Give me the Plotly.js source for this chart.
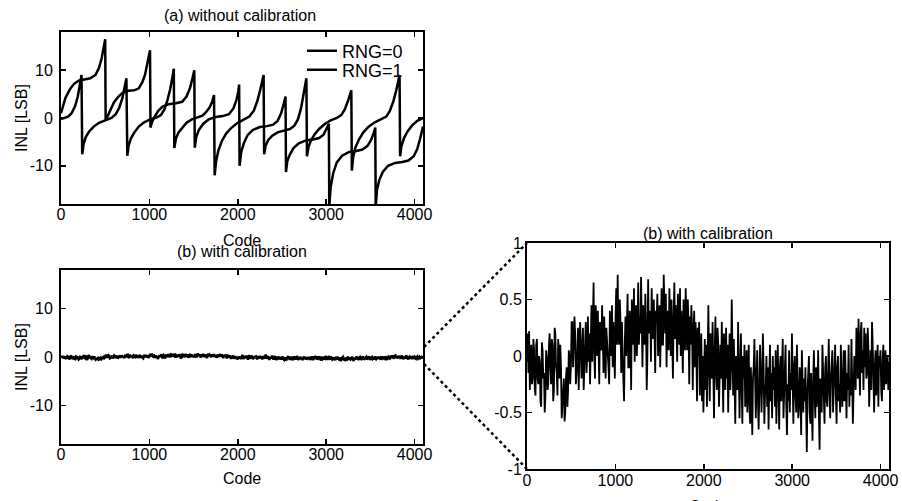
<!DOCTYPE html>
<html>
<head>
<meta charset="utf-8">
<script src="https://cdn.plot.ly/plotly-3.0.1.min.js"></script>
<style>html,body{margin:0;padding:0;background:#fff;}#chart{width:902px;height:501px;}</style>
</head>
<body>
<div id="chart"></div>
<script>
// ---------- data: (a) without calibration ----------
const rng0Code = [0,20,50,100,150,200,260,330,390,430,460,480,495,500,
  505,530,560,600,650,700,760,830,880,920,950,975,995,1007,
  1012,1030,1060,1100,1150,1220,1300,1370,1420,1460,1490,1508,
  1513,1530,1560,1610,1670,1750,1830,1900,1950,1985,2005,2015,
  2020,2040,2070,2110,2170,2250,2330,2400,2450,2490,2520,2540,
  2545,2560,2590,2630,2690,2770,2850,2920,2970,3005,3030,
  3035,3050,3080,3120,3180,3260,3340,3410,3470,3510,3540,3555,
  3560,3575,3600,3640,3700,3780,3860,3930,3990,4030,4060,4095];
const rng0INL = [1.0,2.5,4.2,6.0,7.2,7.8,8.1,8.3,9.0,10.5,12.5,14.5,16.2,16.5,
  -0.5,0.5,2.0,3.3,4.5,5.3,5.7,5.8,6.2,7.5,9.0,11.0,13.2,14.2,
  -2.0,-0.8,0.3,1.5,2.4,2.9,3.1,3.4,4.5,6.3,8.5,10.0,
  -6.2,-4.0,-2.5,-1.2,-0.3,0.2,0.4,0.8,2.0,3.8,5.5,7.0,
  -10.0,-7.0,-5.2,-3.6,-2.5,-1.9,-1.7,-1.4,-0.6,1.0,3.0,4.5,
  -11.3,-9.0,-7.6,-6.3,-5.3,-4.7,-4.5,-4.2,-3.5,-2.3,-1.2,
  -18.5,-14.5,-11.5,-9.3,-7.9,-7.1,-6.9,-6.6,-5.8,-4.5,-3.0,-2.0,
  -18.5,-15.0,-13.0,-11.3,-10.0,-9.4,-9.2,-8.9,-8.0,-6.5,-4.5,-1.8];

const rng1Code = [0,40,80,120,160,190,210,225,232,
  240,255,280,320,370,430,500,570,620,660,695,720,740,
  750,765,790,830,880,940,1010,1080,1130,1170,1205,1235,1260,1276,
  1282,1300,1330,1370,1420,1480,1550,1600,1640,1680,1710,1731,
  1738,1755,1780,1820,1870,1930,2000,2070,2130,2180,2220,2255,2280,2292,
  2298,2315,2345,2390,2450,2520,2590,2640,2680,2715,2745,2765,2776,
  2782,2800,2830,2870,2920,2980,3050,3120,3170,3210,3245,3270,3284,
  3290,3305,3330,3370,3420,3480,3550,3620,3680,3720,3760,3795,3818,3830,
  3836,3850,3880,3920,3970,4030,4095];
const rng1INL = [-0.2,0.0,0.3,1.0,2.5,4.5,6.5,8.5,9.0,
  -7.6,-5.5,-4.0,-2.8,-1.8,-1.0,-0.5,0.0,0.8,2.2,4.2,6.2,8.3,
  -7.9,-5.8,-4.3,-3.0,-1.8,-0.9,-0.3,0.1,0.6,1.8,3.8,6.0,8.5,10.3,
  -6.3,-4.3,-3.0,-2.0,-1.0,-0.3,0.2,0.5,1.2,2.2,3.4,4.8,
  -12.0,-9.0,-6.8,-4.8,-3.2,-2.0,-1.0,-0.3,0.3,1.5,3.5,6.0,8.0,9.0,
  -7.6,-5.8,-4.6,-3.7,-3.0,-2.6,-2.3,-1.6,-0.3,2.0,4.8,7.0,8.3,
  -8.0,-6.0,-4.6,-3.4,-2.3,-1.3,-0.5,0.0,0.6,1.8,3.5,4.8,5.8,
  -11.0,-8.2,-6.2,-4.5,-3.0,-1.8,-0.9,-0.3,0.3,1.5,3.5,6.0,8.0,9.0,
  -8.0,-6.0,-4.2,-2.8,-1.6,-0.6,0.0];

// ---------- data: (b) with calibration (values read along the code axis) ----------
const calINL = [
  -0.05,0.2,-0.15,0.22,-0.3,-0.05,0.1,-0.25,-0.2,0.15,0.05,-0.3,-0.35,0.1,0.15,-0.2,-0.25,0.0,-0.05,-0.4,-0.45,0.12,0.05,-0.2,-0.15,-0.5,-0.35,0.05,0.0,-0.3,-0.25,0.1,
  0.2,-0.1,-0.25,0.15,0.1,-0.4,-0.3,0.25,0.2,-0.1,-0.15,-0.35,0.15,0.05,-0.2,0.1,-0.1,-0.55,-0.4,-0.3,-0.2,-0.58,-0.5,-0.2,-0.1,-0.45,-0.3,0.05,0.0,-0.25,-0.1,0.3,
  0.3,-0.1,0.05,0.35,0.2,-0.25,-0.15,0.2,0.25,-0.3,0.0,0.3,0.1,-0.2,0.05,0.25,-0.3,-0.1,0.1,0.3,-0.15,0.0,0.35,-0.05,0.2,-0.25,0.1,0.45,-0.05,0.3,0.65,0.0,
  -0.2,0.45,0.1,0.0,0.4,-0.1,-0.25,0.3,0.2,0.05,0.45,-0.05,-0.15,0.35,0.1,-0.2,0.25,0.15,0.1,-0.1,-0.25,0.4,0.2,0.0,0.45,-0.1,0.3,0.05,-0.2,0.35,0.6,0.1,
  0.72,0.2,0.1,0.5,0.3,-0.15,0.3,0.0,-0.2,-0.4,0.1,0.35,0.0,0.2,0.55,-0.1,-0.1,0.4,0.25,-0.3,0.5,0.1,0.15,0.6,-0.05,0.3,0.45,0.0,0.2,0.65,0.1,0.35,
  0.2,0.7,0.3,-0.1,0.45,0.2,0.1,0.55,0.3,-0.3,0.0,0.68,0.2,0.35,0.4,-0.05,0.6,0.25,0.15,0.5,0.05,-0.15,0.4,0.3,0.55,0.0,0.2,0.45,-0.1,0.35,0.6,0.1,
  0.1,0.72,0.4,0.2,0.55,-0.1,0.3,0.4,0.05,0.6,0.3,0.0,0.5,0.2,-0.2,0.35,0.65,0.15,0.45,0.25,-0.05,0.55,0.3,0.1,0.6,0.0,0.4,0.2,-0.15,0.5,0.3,0.05,
  0.6,0.2,0.05,0.5,0.3,-0.25,0.35,0.1,0.45,0.25,-0.3,0.2,0.4,-0.1,0.3,0.05,-0.4,0.25,0.0,0.3,-0.35,-0.05,0.2,-0.4,0.0,-0.5,-0.2,0.15,-0.3,0.1,-0.45,0.0,
  0.45,-0.1,-0.4,0.2,0.0,-0.2,0.3,-0.3,-0.55,0.05,0.35,-0.15,-0.3,0.25,0.1,-0.45,0.0,0.1,-0.2,0.3,-0.1,-0.5,0.2,0.0,-0.3,0.25,-0.2,0.1,-0.5,-0.1,0.2,-0.3,
  -0.1,0.5,0.0,-0.35,0.15,-0.2,-0.6,0.0,-0.1,-0.3,0.3,-0.15,-0.55,-0.1,0.2,-0.3,-0.6,0.0,-0.2,0.1,-0.45,-0.3,0.05,-0.5,-0.2,0.1,-0.45,-0.6,-0.1,-0.3,-0.7,-0.2,
  -0.1,0.15,-0.3,-0.55,-0.2,0.05,-0.4,-0.65,-0.3,0.1,-0.15,-0.5,-0.25,0.2,-0.1,-0.6,-0.35,-0.25,0.0,-0.45,-0.1,-0.65,-0.2,0.1,-0.4,-0.15,-0.55,0.0,-0.3,-0.1,-0.45,0.05,
  -0.6,-0.2,0.1,-0.3,-0.65,-0.1,0.0,-0.4,-0.2,0.15,-0.55,-0.3,-0.2,0.1,-0.45,-0.7,-0.25,-0.4,0.05,-0.5,-0.15,-0.3,0.2,-0.45,-0.6,-0.1,0.0,-0.35,-0.5,0.1,-0.2,-0.55,
  -0.45,-0.1,-0.3,-0.7,0.05,-0.25,-0.5,-0.2,-0.4,-0.1,-0.6,-0.85,-0.3,-0.1,0.0,-0.5,-0.6,-0.15,-0.35,-0.75,-0.2,0.05,-0.35,-0.55,-0.1,-0.45,-0.3,0.05,-0.5,-0.83,-0.2,-0.4,
  -0.5,0.1,-0.2,-0.3,-0.6,-0.1,0.0,-0.4,-0.45,-0.15,0.15,-0.3,-0.55,-0.2,-0.1,0.05,-0.5,-0.3,-0.2,0.1,-0.35,-0.6,-0.1,0.0,-0.4,-0.25,-0.5,0.1,-0.15,-0.45,-0.3,0.05,
  -0.4,0.05,-0.2,-0.55,-0.15,-0.3,0.1,-0.45,-0.2,-0.35,0.15,-0.1,-0.6,-0.3,0.0,-0.2,-0.3,0.25,0.1,-0.2,0.33,-0.1,-0.35,0.2,0.3,-0.15,0.05,-0.3,0.25,-0.1,0.2,-0.2,
  -0.15,0.25,0.05,-0.45,-0.2,0.05,-0.3,0.3,0.1,-0.2,-0.5,-0.1,0.05,-0.35,-0.2,0.1,-0.45,0.0,-0.1,0.05,-0.3,-0.4,-0.05,0.1,-0.3,-0.15,0.05,-0.25,-0.1,0.0,-0.3,-0.05];
const codeMax = 4095;
const calCode = calINL.map((v, i) => i * codeMax / (calINL.length - 1));

// ---------- tick labels ----------
const codeTicks = [0, 1000, 2000, 3000, 4000];
const codeTickText = ['0', '1000', '2000', '3000', '4000'];
const inlTicks = [-10, 0, 10];
const inlTickText = ['-10', '0', '10'];
const zoomTicks = [-1, -0.5, 0, 0.5, 1];
const zoomTickText = ['-1', '-0.5', '0', '0.5', '1'];

// ---------- layout helpers ----------
const W = 902, H = 501;
const px = v => v / W;
const py = v => 1 - v / H;
const FONT = 'Liberation Sans, Arial, Helvetica, sans-serif';
const FS = 16;

function axis(extra) {
  return Object.assign({
    showgrid: false, zeroline: false, showline: true, linewidth: 2, linecolor: '#000',
    mirror: 'ticks', ticks: 'inside', ticklen: 5, tickwidth: 1.5, tickcolor: '#000',
    tickfont: {family: FONT, size: FS, color: '#000'}, tickmode: 'array',
    fixedrange: true
  }, extra);
}

const lineStyle = {color: '#000', width: 2.5};

const traces = [
  {x: rng0Code, y: rng0INL, name: 'RNG=0', type: 'scatter', mode: 'lines', line: lineStyle, xaxis: 'x', yaxis: 'y', legend: 'legend'},
  {x: rng1Code, y: rng1INL, name: 'RNG=1', type: 'scatter', mode: 'lines', line: lineStyle, xaxis: 'x', yaxis: 'y', legend: 'legend2'},
  {x: calCode, y: calINL, name: 'calibrated', type: 'scatter', mode: 'lines', line: {color: '#000', width: 2.5}, xaxis: 'x2', yaxis: 'y2', showlegend: false},
  {x: calCode, y: calINL, name: 'calibrated (zoom)', type: 'scatter', mode: 'lines', line: {color: '#000', width: 1.8}, xaxis: 'x3', yaxis: 'y3', showlegend: false}
];

const ann = (text, x, y, extra) => Object.assign({
  text, x, y, xref: 'paper', yref: 'paper', showarrow: false,
  xanchor: 'center', yanchor: 'middle', font: {family: FONT, size: FS, color: '#000'}
}, extra || {});

const legendBase = {xanchor: 'left', yanchor: 'middle', bgcolor: 'rgba(0,0,0,0)', borderwidth: 0,
  font: {family: FONT, size: 18, color: '#000'}, tracegroupgap: 0, itemwidth: 30};

const layout = {
  width: W, height: H, autosize: false,
  margin: {l: 0, r: 0, t: 0, b: 0, pad: 0},
  paper_bgcolor: '#fff', plot_bgcolor: '#fff',
  font: {family: FONT, size: FS, color: '#000'},
  showlegend: true,
  legend: Object.assign({x: px(302), y: py(51)}, legendBase),
  legend2: Object.assign({x: px(302), y: py(70)}, legendBase),
  xaxis: axis({domain: [px(61), px(423)], range: [0, codeMax], anchor: 'y', tickvals: codeTicks, ticktext: codeTickText, ticklabelstandoff: -5}),
  yaxis: axis({domain: [py(204), py(32)], range: [-18, 18], anchor: 'x', tickvals: inlTicks, ticktext: inlTickText, ticklabelstandoff: 3}),
  xaxis2: axis({domain: [px(61), px(423)], range: [0, codeMax], anchor: 'y2', tickvals: codeTicks, ticktext: codeTickText, ticklabelstandoff: -5}),
  yaxis2: axis({domain: [py(444), py(270)], range: [-18, 18], anchor: 'x2', tickvals: inlTicks, ticktext: inlTickText, ticklabelstandoff: 3}),
  xaxis3: axis({domain: [px(527), px(889)], range: [0, codeMax], anchor: 'y3', tickvals: codeTicks, ticktext: codeTickText, ticklabelstandoff: -4}),
  yaxis3: axis({domain: [py(469), py(243)], range: [-1, 1], anchor: 'x3', tickvals: zoomTicks, ticktext: zoomTickText, ticklabelstandoff: 0}),
  annotations: [
    ann('(a) without calibration', px(240), py(15)),
    ann('Code', px(242), py(240)),
    ann('(b) with calibration', px(242), py(252)),
    ann('Code', px(242), py(478)),
    ann('INL [LSB]', px(21), py(118), {textangle: -90}),
    ann('INL [LSB]', px(21), py(357), {textangle: -90}),
    ann('(b) with calibration', px(708), py(233)),
    ann('Code', px(708), py(506))
  ],
  shapes: [
    {type: 'line', xref: 'paper', yref: 'paper', x0: px(424), y0: py(347), x1: px(527), y1: py(243), line: {color: '#000', width: 2.5, dash: 'dot'}},
    {type: 'line', xref: 'paper', yref: 'paper', x0: px(424), y0: py(364), x1: px(527), y1: py(469), line: {color: '#000', width: 2.5, dash: 'dot'}}
  ]
};

Plotly.newPlot('chart', traces, layout, {staticPlot: true, displayModeBar: false});
</script>
</body>
</html>
